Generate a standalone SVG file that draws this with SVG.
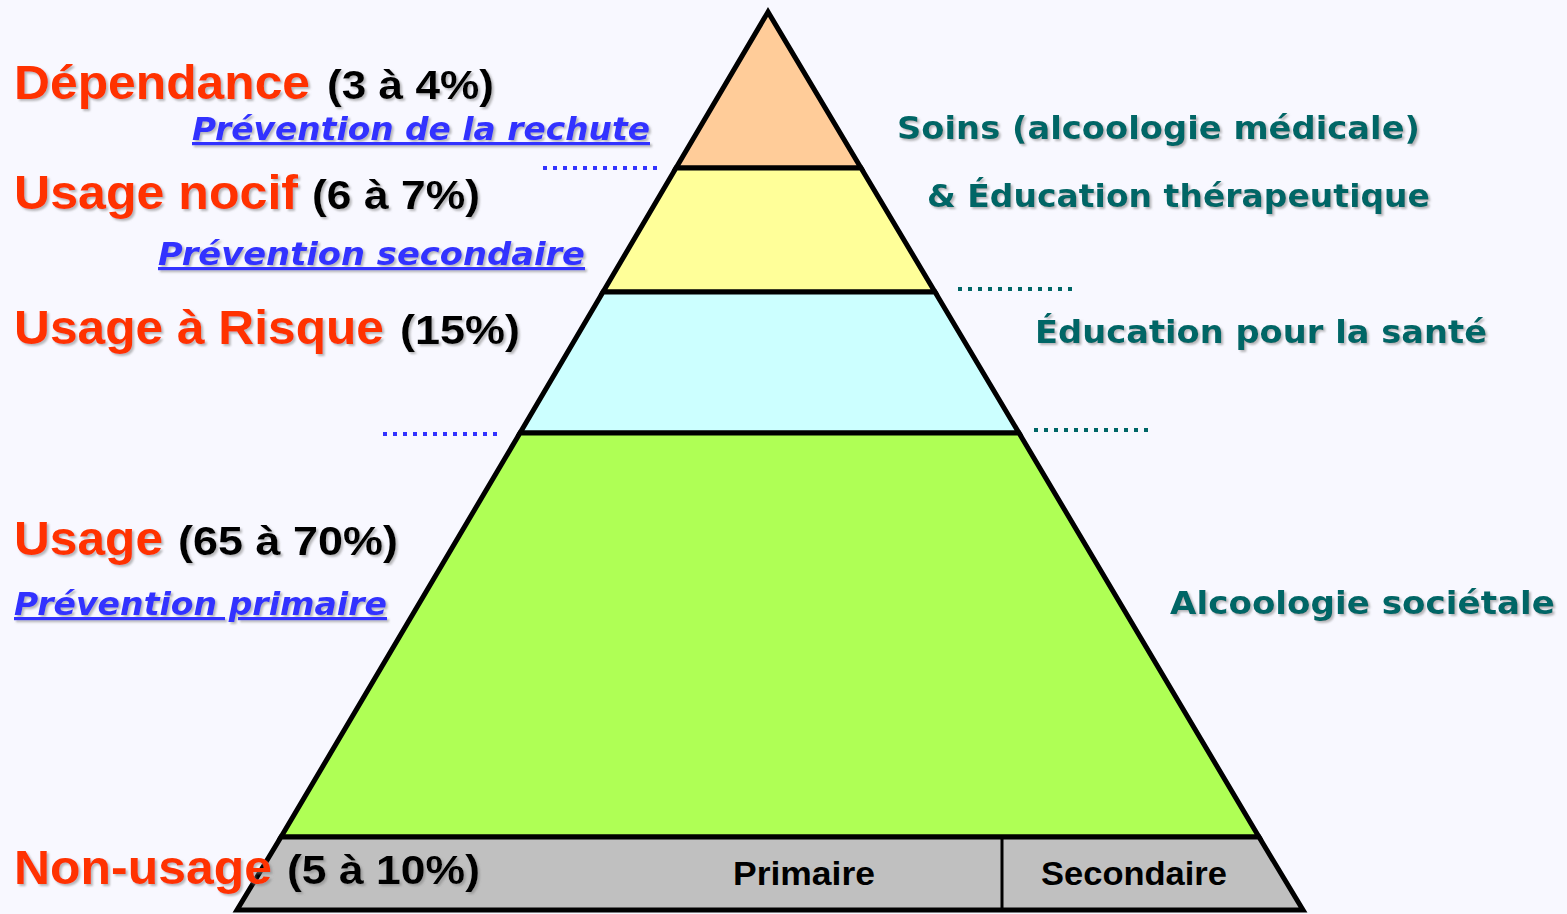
<svg xmlns="http://www.w3.org/2000/svg" width="1567" height="914" viewBox="0 0 1567 914">
<defs>
<filter id="sh" x="-5%" y="-20%" width="110%" height="140%">
<feDropShadow dx="2" dy="2" stdDeviation="1" flood-color="#808080" flood-opacity="0.55"/>
</filter>
<style>
.red{font-family:"Liberation Sans",Arial,sans-serif;font-weight:bold;fill:#FF3300;font-size:48px}
.pct{font-family:"Liberation Sans",Arial,sans-serif;font-weight:bold;fill:#000;font-size:40px}
.blue{font-family:"DejaVu Sans",Verdana,sans-serif;font-weight:bold;font-style:italic;fill:#3333FF;font-size:32px;text-decoration:underline}
.teal{font-family:"DejaVu Sans",Verdana,sans-serif;font-weight:bold;fill:#006666;font-size:32px}
.lvl{font-family:"Liberation Sans",Arial,sans-serif;font-weight:bold;fill:#000;font-size:34px}
.band{stroke:#000;stroke-width:5;stroke-linejoin:miter}
.dotb{stroke:#3333FF;stroke-width:4;stroke-dasharray:4 6;fill:none}
.dott{stroke:#006666;stroke-width:4;stroke-dasharray:4 6;fill:none}
</style>
</defs>
<rect width="1567" height="914" fill="#F8F8FF"/>

<g id="pyramid">
<g id="level-dependance"><polygon class="band" points="768,12 676,168 861,168" fill="#FFCC99"/></g>
<g id="level-nocif"><polygon class="band" points="676,168 861,168 935,292 603,292" fill="#FFFF99"/></g>
<g id="level-risque"><polygon class="band" points="603,292 935,292 1019,433 520,433" fill="#CCFFFF"/></g>
<g id="level-usage"><polygon class="band" points="520,433 1019,433 1259,837 281,837" fill="#AFFF55"/></g>
<g id="level-nonusage">
<polygon class="band" points="281,837 1259,837 1303,910 237,910" fill="#C0C0C0"/>
<line x1="1002" y1="837" x2="1002" y2="910" stroke="#000" stroke-width="3"/>
</g>
</g>

<g id="connectors">
<line class="dotb" x1="543" y1="168" x2="662" y2="168"/>
<line class="dott" x1="958" y1="289" x2="1078" y2="289"/>
<line class="dotb" x1="383" y1="434" x2="502" y2="434"/>
<line class="dott" x1="1034" y1="430" x2="1154" y2="430"/>
</g>

<g id="labels-left" filter="url(#sh)">
<g id="lbl-dependance">
<text class="red" x="14" y="99" textLength="296" lengthAdjust="spacingAndGlyphs">Dépendance</text>
<text class="pct" x="327" y="99" textLength="167" lengthAdjust="spacingAndGlyphs">(3 à 4%)</text>
</g>
<text id="lbl-rechute" class="blue" x="192" y="140" textLength="458" lengthAdjust="spacingAndGlyphs">Prévention de la rechute</text>
<g id="lbl-nocif">
<text class="red" x="14" y="209" textLength="284" lengthAdjust="spacingAndGlyphs">Usage nocif</text>
<text class="pct" x="312" y="209" textLength="168" lengthAdjust="spacingAndGlyphs">(6 à 7%)</text>
</g>
<text id="lbl-secondaire" class="blue" x="158" y="265" textLength="427" lengthAdjust="spacingAndGlyphs">Prévention secondaire</text>
<g id="lbl-risque">
<text class="red" x="14" y="344" textLength="370" lengthAdjust="spacingAndGlyphs">Usage à Risque</text>
<text class="pct" x="400" y="344" textLength="120" lengthAdjust="spacingAndGlyphs">(15%)</text>
</g>
<g id="lbl-usage">
<text class="red" x="14" y="555" textLength="149" lengthAdjust="spacingAndGlyphs">Usage</text>
<text class="pct" x="178" y="555" textLength="220" lengthAdjust="spacingAndGlyphs">(65 à 70%)</text>
</g>
<text id="lbl-primaire" class="blue" x="14" y="615" textLength="373" lengthAdjust="spacingAndGlyphs">Prévention primaire</text>
<g id="lbl-nonusage">
<text class="red" x="14" y="884" textLength="258" lengthAdjust="spacingAndGlyphs">Non-usage</text>
<text class="pct" x="287" y="884" textLength="193" lengthAdjust="spacingAndGlyphs">(5 à 10%)</text>
</g>
</g>

<g id="labels-right" filter="url(#sh)">
<text id="lbl-soins" class="teal" x="897" y="139" textLength="523" lengthAdjust="spacingAndGlyphs">Soins (alcoologie médicale)</text>
<text id="lbl-edther" class="teal" x="927" y="207" textLength="503" lengthAdjust="spacingAndGlyphs">&amp; Éducation thérapeutique</text>
<text id="lbl-edsante" class="teal" x="1035" y="343" textLength="452" lengthAdjust="spacingAndGlyphs">Éducation pour la santé</text>
<text id="lbl-societale" class="teal" x="1170" y="614" textLength="385" lengthAdjust="spacingAndGlyphs">Alcoologie sociétale</text>
</g>

<g id="labels-base">
<text class="lvl" x="733" y="885" textLength="142" lengthAdjust="spacingAndGlyphs">Primaire</text>
<text class="lvl" x="1041" y="885" textLength="186" lengthAdjust="spacingAndGlyphs">Secondaire</text>
</g>
</svg>
